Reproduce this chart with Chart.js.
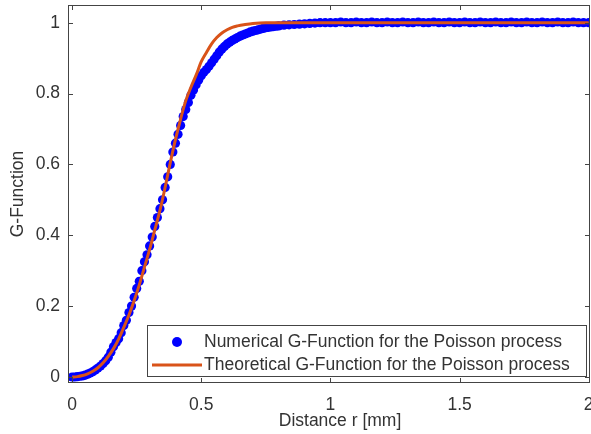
<!DOCTYPE html>
<html>
<head>
<meta charset="utf-8">
<script src="https://cdn.jsdelivr.net/npm/chart.js@4"></script>
<style>
  html, body { margin: 0; padding: 0; background: #fff; }
  #wrap { width: 591px; height: 434px; }
</style>
</head>
<body>
<div id="wrap"><canvas id="chart" width="591" height="434"></canvas></div>
<script>
// numerical G-function (blue dots)
const numR = [0, 0.01, 0.02, 0.03, 0.04, 0.05, 0.06, 0.07, 0.08, 0.09,
  0.10, 0.11, 0.12, 0.13, 0.14, 0.15, 0.16, 0.17, 0.18, 0.19,
  0.20, 0.21, 0.22, 0.23, 0.24, 0.25, 0.26, 0.27, 0.28, 0.29,
  0.30, 0.31, 0.32, 0.33, 0.34, 0.35, 0.36, 0.37, 0.38, 0.39,
  0.40, 0.41, 0.42, 0.43, 0.44, 0.45, 0.46, 0.47, 0.48, 0.49,
  0.50, 0.51, 0.52, 0.53, 0.54, 0.55, 0.56, 0.57, 0.58, 0.59,
  0.60, 0.61, 0.62, 0.63, 0.64, 0.65, 0.66, 0.67, 0.68, 0.69,
  0.70, 0.71, 0.72, 0.73, 0.74, 0.75, 0.76, 0.77, 0.78, 0.79,
  0.80, 0.82, 0.84, 0.86, 0.88, 0.90, 0.92, 0.94, 0.96, 0.98,
  1.00, 1.02, 1.04, 1.06, 1.08, 1.10, 1.12, 1.14, 1.16, 1.18,
  1.20, 1.22, 1.24, 1.26, 1.28, 1.30, 1.32, 1.34, 1.36, 1.38,
  1.40, 1.42, 1.44, 1.46, 1.48, 1.50, 1.52, 1.54, 1.56, 1.58,
  1.60, 1.62, 1.64, 1.66, 1.68, 1.70, 1.72, 1.74, 1.76, 1.78,
  1.80, 1.82, 1.84, 1.86, 1.88, 1.90, 1.92, 1.94, 1.96, 1.98, 2.00];
const numG = [0, 0, 0.001, 0.002, 0.003, 0.005, 0.008, 0.011, 0.015, 0.02,
  0.025, 0.031, 0.038, 0.046, 0.056, 0.07, 0.085, 0.097, 0.108, 0.125,
  0.145, 0.16, 0.182, 0.2, 0.225, 0.25, 0.27, 0.3, 0.325, 0.345,
  0.37, 0.395, 0.425, 0.45, 0.475, 0.5, 0.535, 0.565, 0.6, 0.635,
  0.66, 0.685, 0.71, 0.735, 0.755, 0.775, 0.795, 0.81, 0.825, 0.838,
  0.85, 0.86, 0.868, 0.877, 0.887, 0.897, 0.907, 0.917, 0.926, 0.933,
  0.94, 0.945, 0.95, 0.954, 0.958, 0.962, 0.965, 0.968, 0.971, 0.974,
  0.976, 0.978, 0.98, 0.982, 0.984, 0.986, 0.987, 0.988, 0.989, 0.99,
  0.991, 0.993, 0.994, 0.995, 0.996, 0.997, 0.998, 0.999, 1, 1,
  1, 1, 1.002, 1, 1, 1.002, 1, 1, 1.002, 1,
  1, 1.002, 1, 1, 1.002, 1, 1, 1.002, 1, 1,
  1.002, 1, 1, 1.002, 1, 1, 1.002, 1, 1, 1.002,
  1, 1, 1.002, 1, 1, 1.002, 1, 1, 1.002, 1,
  1, 1.002, 1, 1, 1.002, 1, 1, 1.002, 1, 1, 1];

// theoretical G-function (orange line)
const theoR = [0, 0.02, 0.04, 0.06, 0.08, 0.10, 0.12, 0.14, 0.16, 0.18,
  0.20, 0.22, 0.24, 0.26, 0.28, 0.30, 0.32, 0.34, 0.36, 0.38,
  0.40, 0.42, 0.44, 0.46, 0.48, 0.50, 0.52, 0.54, 0.56, 0.58,
  0.60, 0.62, 0.64, 0.67, 0.70, 0.75, 0.85, 1.0, 1.5, 2.0];
const theoG = [0, 0.001, 0.004, 0.009, 0.016, 0.026, 0.04, 0.058, 0.08, 0.107,
  0.14, 0.175, 0.215, 0.26, 0.31, 0.36, 0.415, 0.47, 0.535, 0.605,
  0.67, 0.728, 0.78, 0.818, 0.852, 0.89, 0.916, 0.94, 0.958, 0.971,
  0.98, 0.987, 0.991, 0.995, 0.998, 1, 1, 1, 1, 1];

const xTicks = [0, 0.5, 1, 1.5, 2];
const yTicks = [0, 0.2, 0.4, 0.6, 0.8, 1];

const legendLabels = ["Numerical G-Function for the Poisson process",
  "Theoretical G-Function for the Poisson process"];

const FONT = '"Liberation Sans", Arial, sans-serif';
const TXT = "#333333";
const AX = "#444444";
const BLUE = "#0000ff";
const ORANGE = "#d95319";

// box, inward ticks, axis titles and legend, MATLAB style
const matlabAxes = {
  id: "matlabAxes",
  afterDraw(chart) {
    const { ctx, chartArea: a, scales } = chart;
    ctx.save();
    ctx.strokeStyle = AX;
    ctx.lineWidth = 1;
    ctx.strokeRect(a.left + 0.5, a.top + 0.5, a.right - a.left - 1, a.bottom - a.top - 1);
    ctx.beginPath();
    xTicks.forEach(v => {
      const px = Math.round(scales.x.getPixelForValue(v)) + 0.5;
      ctx.moveTo(px, a.bottom); ctx.lineTo(px, a.bottom - 5);
      ctx.moveTo(px, a.top); ctx.lineTo(px, a.top + 5);
    });
    yTicks.forEach(v => {
      const py = Math.round(scales.y.getPixelForValue(v)) + 0.5;
      ctx.moveTo(a.left, py); ctx.lineTo(a.left + 5, py);
      ctx.moveTo(a.right, py); ctx.lineTo(a.right - 5, py);
    });
    ctx.stroke();

    // axis titles
    ctx.fillStyle = TXT;
    ctx.font = "17.5px " + FONT;
    ctx.textAlign = "center";
    ctx.textBaseline = "middle";
    ctx.fillText("Distance r [mm]", 340, 421);
    ctx.translate(18, 194);
    ctx.rotate(-Math.PI / 2);
    ctx.fillText("G-Function", 0, 0);
    ctx.restore();

    // legend
    ctx.save();
    ctx.fillStyle = "#fff";
    ctx.fillRect(147, 325, 439, 52);
    ctx.strokeStyle = AX;
    ctx.lineWidth = 1;
    ctx.strokeRect(147.5, 325.5, 439, 51);
    ctx.fillStyle = BLUE;
    ctx.beginPath();
    ctx.arc(177, 342, 5, 0, Math.PI * 2);
    ctx.fill();
    ctx.strokeStyle = ORANGE;
    ctx.lineWidth = 3;
    ctx.beginPath();
    ctx.moveTo(152, 365); ctx.lineTo(202, 365);
    ctx.stroke();
    ctx.fillStyle = TXT;
    ctx.font = "17.5px " + FONT;
    ctx.textAlign = "left";
    ctx.textBaseline = "middle";
    ctx.fillText(legendLabels[0], 204, 342);
    ctx.fillText(legendLabels[1], 204, 365);
    ctx.restore();
  }
};

new Chart(document.getElementById("chart"), {
  data: {
    datasets: [
      {
        type: "line",
        label: legendLabels[1],
        data: theoR.map((r, i) => ({ x: r, y: theoG[i] })),
        borderColor: ORANGE,
        borderWidth: 3,
        pointRadius: 0,
        cubicInterpolationMode: "monotone",
        order: 0
      },
      {
        type: "scatter",
        label: legendLabels[0],
        data: numR.map((r, i) => ({ x: r, y: numG[i] })),
        backgroundColor: BLUE,
        borderWidth: 0,
        pointRadius: 4.6,
        order: 1
      }
    ]
  },
  options: {
    responsive: false,
    animation: false,
    layout: { autoPadding: false, padding: { left: 0, right: 1, top: 5, bottom: 0 } },
    plugins: { legend: { display: false }, tooltip: { enabled: false } },
    scales: {
      x: {
        type: "linear",
        min: -0.016,
        max: 2.005,
        afterBuildTicks: s => { s.ticks = xTicks.map(v => ({ value: v })); },
        afterFit: s => { s.height = 51; s.paddingLeft = 0; s.paddingRight = 0; },
        grid: { display: false, drawTicks: false },
        border: { display: false },
        ticks: {
          autoSkip: false,
          maxRotation: 0,
          padding: 12,
          color: TXT,
          font: { family: FONT, size: 17.5 },
          callback: v => String(v)
        }
      },
      y: {
        type: "linear",
        min: -0.017,
        max: 1.05,
        afterBuildTicks: s => { s.ticks = yTicks.map(v => ({ value: v })); },
        afterFit: s => { s.width = 68; s.paddingTop = 0; s.paddingBottom = 0; },
        grid: { display: false, drawTicks: false },
        border: { display: false },
        ticks: {
          autoSkip: false,
          padding: 8,
          color: TXT,
          font: { family: FONT, size: 17.5 },
          callback: v => String(v)
        }
      }
    }
  },
  plugins: [matlabAxes]
});
</script>
</body>
</html>
